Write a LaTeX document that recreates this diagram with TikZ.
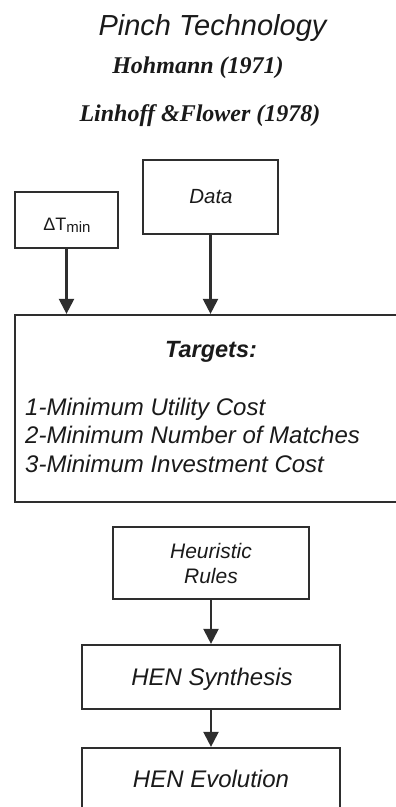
\documentclass[tikz,border=0pt]{standalone}
\usepackage{fontspec}
\setmainfont{Liberation Sans}
\newfontfamily\tmsfont{Liberation Serif}
\usetikzlibrary{arrows.meta}
\definecolor{linec}{HTML}{2E2E2E}
\definecolor{txtc}{HTML}{1A1A1A}
\begin{document}
\begin{tikzpicture}[x=1pt,y=-1pt,
  box/.style={draw=linec,line width=2.2pt,inner sep=0pt},
  arr/.style={draw=linec,line width=2.2pt,-{Triangle[length=15pt,width=15pt]}},
  lbl/.style={inner sep=0pt,anchor=base,text=txtc,font=\fontsize{24}{28}\selectfont\itshape},
  ref/.style={inner sep=0pt,anchor=base,text=txtc,font=\fontsize{24}{28}\selectfont\tmsfont\bfseries\itshape}]
\useasboundingbox (0,0) rectangle (396,807);
\clip (0,0) rectangle (396,807);
% titles
\node[lbl,font=\fontsize{29}{34}\selectfont\itshape] (title) at (212.5,35) {Pinch Technology};
\node[ref] (hoh) at (198,73) {Hohmann (1971)};
\node[ref] (lin) at (200,121) {Linhoff \&Flower (1978)};
% boxes
\node[box,minimum width=103pt,minimum height=56pt] (dt) at (66.5,220) {};
\node[box,minimum width=135pt,minimum height=74pt] (data) at (210.5,197) {};
\node[box,minimum width=390pt,minimum height=187pt] (tg) at (210,408.5) {};
\node[box,minimum width=196pt,minimum height=72pt] (heur) at (211,563) {};
\node[box,minimum width=258pt,minimum height=64pt] (syn) at (211,677) {};
\node[box,minimum width=258pt,minimum height=64pt] (evo) at (211,780) {};
% texts
\node[lbl,font=\fontsize{18}{20}\selectfont] (dtt) at (67,230) {ΔT\raisebox{-2pt}{\fontsize{15}{16}\selectfont min}};
\node[lbl,font=\fontsize{20.5}{24}\selectfont\itshape] (datat) at (211,203) {Data};
\node[lbl,font=\fontsize{23.5}{28}\selectfont\bfseries\itshape] (tgt) at (211,357) {Targets:};
\node[lbl,anchor=base west] (t1) at (25,415) {1-Minimum Utility Cost};
\node[lbl,anchor=base west] (t2) at (25,443.5) {2-Minimum Number of Matches};
\node[lbl,anchor=base west] (t3) at (25,472) {3-Minimum Investment Cost};
\node[lbl,font=\fontsize{21}{24}\selectfont\itshape] (h1) at (211,558) {Heuristic};
\node[lbl,font=\fontsize{21}{24}\selectfont\itshape] (h2) at (211,583) {Rules};
\node[lbl] (synt) at (212,685) {HEN Synthesis};
\node[lbl] (evot) at (211,787) {HEN Evolution};
% arrows
\draw[arr] (dt.south) -- (dt.south |- tg.north);
\draw[arr] (data.south) -- (data.south |- tg.north);
\draw[arr] (heur.south) -- (syn.north);
\draw[arr] (syn.south) -- (evo.north);
\end{tikzpicture}
\end{document}
